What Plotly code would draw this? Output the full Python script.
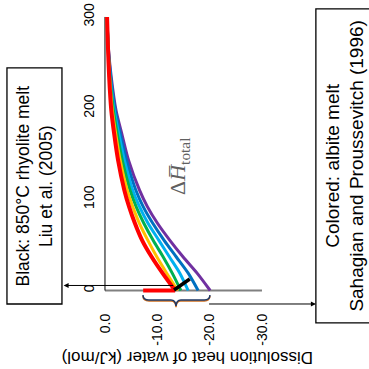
import plotly.graph_objects as go

# ---- data ----
levels = [0, 19, 37, 55, 74, 92, 110, 143, 170, 198, 234, 270, 300]
series_names = ["purple", "blue", "light blue", "green", "orange", "red"]
series_colors = ["#7030a0", "#0070c0", "#00b0f0", "#00b050", "#ffc000", "#ff0000"]
heat_purple = [-20.1, -17.6, -14.9, -12.4, -10.0, -8.1, -6.6, -4.5, -3.3, -2.1, -1.2, -0.6, -0.4]
heat_blue = [-17.8, -15.9, -13.6, -11.3, -9.1, -7.3, -5.9, -4.1, -3.0, -1.95, -1.1, -0.6, -0.4]
heat_lightblue = [-15.9, -14.3, -12.3, -10.3, -8.2, -6.6, -5.3, -3.7, -2.7, -1.75, -1.0, -0.58, -0.4]
heat_green = [-14.5, -12.85, -11.1, -9.2, -7.4, -5.95, -4.8, -3.3, -2.4, -1.6, -0.95, -0.57, -0.4]
heat_orange = [-13.9, -11.8, -9.9, -8.2, -6.55, -5.3, -4.25, -2.9, -2.1, -1.4, -0.88, -0.56, -0.4]
heat_red = [-13.4, -11.0, -8.9, -7.1, -5.7, -4.6, -3.7, -2.5, -1.8, -1.2, -0.8, -0.55, -0.4]
red_flat_heat = [-7.3, -13.4]    # red flat segment along the zero line
liu_heat = [-13.2, -16.2]        # black segment (Liu et al. 2005)
liu_level = [0.5, 12.6]
heat_ticks = [0, -10, -20, -30]
level_ticks = [0, 100, 200, 300]

all_heat = [heat_purple, heat_blue, heat_lightblue, heat_green, heat_orange, heat_red]

fig = go.Figure()

# base lines
fig.add_trace(go.Scatter(x=[0, -30], y=[0, 0], mode="lines",
                         line=dict(color="#808080", width=2), showlegend=False))
fig.add_trace(go.Scatter(x=[0, 0], y=[0, 300], mode="lines",
                         line=dict(color="#000000", width=1), showlegend=False))

for name, col, h in zip(series_names, series_colors, all_heat):
    w = 4 if name == "red" else 3
    fig.add_trace(go.Scatter(x=h, y=levels, mode="lines", name=name,
                             line=dict(color=col, width=w, shape="spline", smoothing=0.8),
                             showlegend=False))

fig.add_trace(go.Scatter(x=red_flat_heat, y=[0, 0], mode="lines",
                         line=dict(color="#ff0000", width=4), showlegend=False))
fig.add_trace(go.Scatter(x=liu_heat, y=liu_level, mode="lines",
                         line=dict(color="#000000", width=3.5), showlegend=False))

# brace (orange shadow + navy)
def brace(dv):
    return (f"M -7.26,{-4.9+dv} Q -7.3,{-10.4+dv} -8.4,{-10.4+dv} L -12.6,{-10.4+dv} "
            f"Q -13.5,{-10.4+dv} -13.57,{-17+dv} Q -13.65,{-10.4+dv} -14.5,{-10.4+dv} "
            f"L -19.0,{-10.4+dv} Q -20.0,{-10.4+dv} -20.06,{-4.9+dv}")

shapes = [
    dict(type="path", xref="x", yref="y", path=brace(-1.2), line=dict(color="#d07020", width=1.5)),
    dict(type="path", xref="x", yref="y", path=brace(0), line=dict(color="#1f3864", width=1.5)),
    dict(type="rect", xref="x", yref="y", x0=18.73, x1=8.22, y0=244.1, y1=-14.8,
         line=dict(color="#000000", width=1.3)),
    dict(type="rect", xref="x", yref="y", x0=-40.3, x1=-53.0, y0=308.8, y1=-35.6,
         line=dict(color="#000000", width=1.3)),
]

annotations = [
    dict(x=7.9, y=5.5, ax=-13.3, ay=5.5, xref="x", yref="y", axref="x", ayref="y",
         text="", showarrow=True, arrowhead=2, arrowsize=1, arrowwidth=1, arrowcolor="#000000"),
    dict(x=-40.3, y=-14.8, ax=-19.6, ay=-14.8, xref="x", yref="y", axref="x", ayref="y",
         text="", showarrow=True, arrowhead=2, arrowsize=1, arrowwidth=1, arrowcolor="#000000"),
    dict(x=13.47, y=114.6, xref="x", yref="y", showarrow=False, textangle=-90,
         text="Black: 850°C rhyolite melt<br>Liu et al. (2005)",
         font=dict(family="Liberation Sans, Arial", size=17.5, color="#000000")),
    dict(x=-45.8, y=136.6, xref="x", yref="y", showarrow=False, textangle=-90,
         text="Colored: albite melt<br>Sahagian and Proussevitch (1996)",
         font=dict(family="Liberation Sans, Arial", size=19, color="#000000")),
    dict(x=-15.67, y=-73.5, xref="x", yref="y", showarrow=False, textangle=180,
         text="Dissolution heat of water (kJ/mol)",
         font=dict(family="Liberation Sans, Arial", size=17, color="#000000")),
    dict(x=-14.14, y=136.6, xref="x", yref="y", showarrow=False, textangle=-90,
         text="Δ<i>H̅</i><sub>total</sub>",
         font=dict(family="Liberation Serif, DejaVu Serif, serif", size=22, color="#606060")),
]

fig.update_layout(
    width=369, height=369, margin=dict(l=0, r=0, t=0, b=0),
    paper_bgcolor="white", plot_bgcolor="white",
    shapes=shapes, annotations=annotations,
    xaxis=dict(range=[20.06, -50.45], domain=[0, 1], anchor="free", position=0.16,
               tickvals=heat_ticks, ticktext=[f"{v:.1f}" for v in heat_ticks],
               tickangle=-90, showgrid=False, zeroline=False, showline=False, ticks="",
               tickfont=dict(family="Liberation Sans, Arial", size=14, color="#000000")),
    yaxis=dict(range=[-86.1, 318.6], domain=[0, 1], anchor="free", position=0.2846,
               tickvals=level_ticks, tickangle=-90, showgrid=False, zeroline=False,
               showline=False, ticks="", ticklabelstandoff=8,
               tickfont=dict(family="Liberation Sans, Arial", size=14, color="#000000")),
)

fig.write_html("out.html", post_script="document.body.style.margin='0';",
               config={"displayModeBar": False})
